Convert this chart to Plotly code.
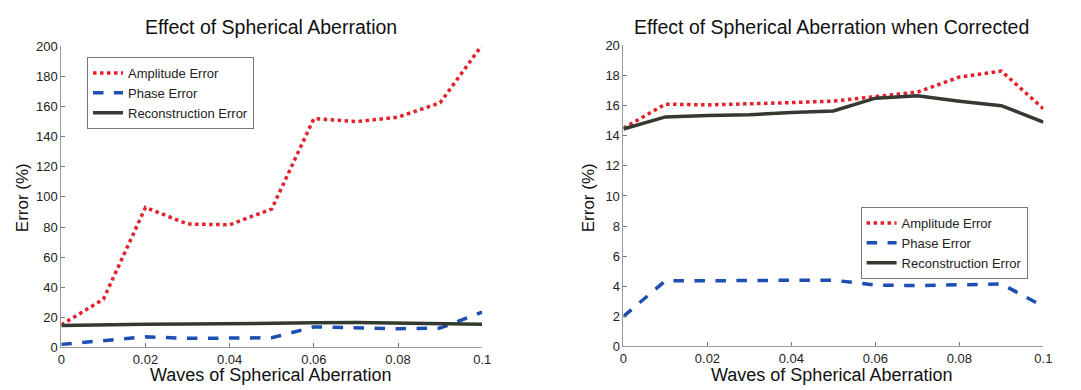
import plotly.graph_objects as go

x_vals = [0, 0.01, 0.02, 0.03, 0.04, 0.05, 0.06, 0.07, 0.08, 0.09, 0.1]

# Left: uncorrected
amp_left = [15, 32, 93, 82, 81.5, 92, 152, 150, 153, 162.5, 201]
phase_left = [2, 4.7, 7, 6, 6, 6.4, 13.6, 12.8, 12.4, 12.8, 23.5]
recon_left = [14.5, 15.2, 15.4, 15.5, 15.6, 15.7, 16.3, 16.5, 16.3, 16.0, 15.4]

# Right: corrected
amp_right = [14.5, 16.1, 16.05, 16.1, 16.2, 16.3, 16.6, 16.9, 17.9, 18.3, 15.8]
phase_right = [2.0, 4.36, 4.36, 4.4, 4.4, 4.4, 4.08, 4.04, 4.08, 4.15, 2.66]
recon_right = [14.45, 15.25, 15.35, 15.4, 15.55, 15.65, 16.5, 16.65, 16.3, 16.0, 14.9]

x_ticks = [0, 0.02, 0.04, 0.06, 0.08, 0.1]
x_ticktext = ["0", "0.02", "0.04", "0.06", "0.08", "0.1"]
y_ticks_left = [0, 20, 40, 60, 80, 100, 120, 140, 160, 180, 200]
y_ticks_right = [0, 2, 4, 6, 8, 10, 12, 14, 16, 18, 20]

names = ["Amplitude Error", "Phase Error", "Reconstruction Error"]
RED = "#e3202b"
BLUE = "#1d4fb3"
DARK = "#333b31"
FONT = "Liberation Sans, Arial, sans-serif"

W, H = 1081, 390
def fx(px):
    return px / W
def fy(py):
    return 1 - py / H

fig = go.Figure()

def add_set(amp, ph, rec, xa, ya, legend):
    fig.add_trace(go.Scatter(x=x_vals, y=amp, name=names[0], mode="lines",
                             line=dict(color=RED, width=3.5, dash="dot"),
                             xaxis=xa, yaxis=ya, legend=legend))
    fig.add_trace(go.Scatter(x=x_vals, y=ph, name=names[1], mode="lines",
                             line=dict(color=BLUE, width=3.5, dash="dash"),
                             xaxis=xa, yaxis=ya, legend=legend))
    fig.add_trace(go.Scatter(x=x_vals, y=rec, name=names[2], mode="lines",
                             line=dict(color=DARK, width=3.5),
                             xaxis=xa, yaxis=ya, legend=legend))

add_set(amp_left, phase_left, recon_left, "x", "y", "legend")
add_set(amp_right, phase_right, recon_right, "x2", "y2", "legend2")

axis_common = dict(showgrid=False, zeroline=False, showline=True, linecolor="#9a9a9a",
                   linewidth=1, ticks="inside", ticklen=4, tickcolor="#777",
                   tickfont=dict(family=FONT, size=13, color="#222"), mirror=False)

ytop, ybot = 41, 354
leg_common = dict(xanchor="left", yanchor="top", bgcolor="white", bordercolor="#777",
                  borderwidth=1, font=dict(family=FONT, size=13, color="#222"),
                  tracegroupgap=0, itemwidth=30)
fig.update_layout(
    width=W, height=H, margin=dict(l=0, r=0, t=0, b=0),
    paper_bgcolor="white", plot_bgcolor="white",
    font=dict(family=FONT, color="#222"),
    xaxis=dict(domain=[fx(58), fx(484)], range=[0, 0.1], tickvals=x_ticks,
               ticktext=x_ticktext, anchor="y", **axis_common),
    yaxis=dict(domain=[fy(ybot), fy(ytop)], range=[0, 200], tickvals=y_ticks_left,
               anchor="x", **axis_common),
    xaxis2=dict(domain=[fx(627), fx(1052)], range=[0, 0.1], tickvals=x_ticks,
                ticktext=x_ticktext, anchor="y2", **axis_common),
    yaxis2=dict(domain=[fy(ybot - 1), fy(ytop - 1)], range=[0, 20], tickvals=y_ticks_right,
                anchor="x2", **axis_common),
    legend=dict(x=fx(84), y=fy(52), **leg_common),
    legend2=dict(x=fx(867), y=fy(208), **leg_common),
    showlegend=True,
)

annots = [
    dict(text="Effect of Spherical Aberration", x=fx(270), y=fy(21), size=19.5),
    dict(text="Effect of Spherical Aberration when Corrected", x=fx(838), y=fy(21), size=19.5),
    dict(text="Waves of Spherical Aberration", x=fx(270), y=fy(383), size=18),
    dict(text="Waves of Spherical Aberration", x=fx(838), y=fy(383), size=18),
]
for a in annots:
    fig.add_annotation(text=a["text"], x=a["x"], y=a["y"], xref="paper", yref="paper",
                       xanchor="center", yanchor="middle", showarrow=False,
                       font=dict(family=FONT, size=a["size"], color="#111"))
for xp in (19, 592):
    fig.add_annotation(text="Error (%)", x=fx(xp), y=fy(198), xref="paper", yref="paper",
                       xanchor="center", yanchor="middle", showarrow=False, textangle=-90,
                       font=dict(family=FONT, size=17, color="#111"))

fig.write_html("out.html")
